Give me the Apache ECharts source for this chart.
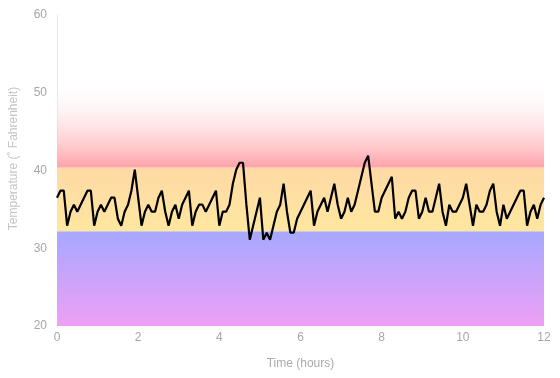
<!DOCTYPE html>
<html>
<head>
<meta charset="utf-8">
<script src="https://cdn.jsdelivr.net/npm/echarts@6/dist/echarts.min.js"></script>
<style>
  html, body { margin: 0; padding: 0; background: #fff; }
  #chart { width: 560px; height: 378px; }
</style>
</head>
<body>
<div id="chart"></div>
<script>
// readings every 5 minutes, degrees F
var sampleMinutes = 5;
var temps = [
  36.5, 37.4, 37.4, 32.9, 34.7, 35.6, 34.7, 35.6, 36.5, 37.4,
  37.4, 32.9, 34.7, 35.6, 34.7, 35.6, 36.5, 36.5, 33.8, 32.9,
  34.7, 35.6, 37.4, 40.1, 36.5, 32.9, 34.7, 35.6, 34.7, 34.7,
  36.5, 37.4, 34.7, 32.9, 34.7, 35.6, 33.8, 35.6, 36.5, 37.4,
  32.9, 34.7, 35.6, 35.6, 34.7, 35.6, 36.5, 37.4, 32.9, 34.7,
  34.7, 35.6, 38.3, 40.1, 41.0, 41.0, 35.6, 31.1, 32.9, 34.7,
  36.5, 31.1, 32.0, 31.1, 32.9, 34.7, 35.6, 38.3, 34.7, 32.0,
  32.0, 33.8, 34.7, 35.6, 36.5, 37.4, 32.9, 34.7, 35.6, 36.5,
  34.7, 36.5, 38.3, 35.6, 33.8, 34.7, 36.5, 34.7, 35.6, 37.4,
  39.2, 41.0, 41.9, 38.3, 34.7, 34.7, 36.5, 37.4, 38.3, 39.2,
  33.8, 34.7, 33.8, 34.7, 36.5, 37.4, 37.4, 33.8, 34.7, 36.5,
  34.7, 34.7, 36.5, 38.3, 34.7, 32.9, 35.6, 34.7, 34.7, 35.6,
  36.5, 38.3, 35.6, 32.9, 35.6, 34.7, 34.7, 35.6, 37.4, 38.3,
  34.7, 32.9, 35.6, 33.8, 34.7, 35.6, 36.5, 37.4, 37.4, 32.9,
  34.7, 35.6, 33.8, 35.6, 36.5
];
var xTicks = [0, 2, 4, 6, 8, 10, 12];
var yTicks = [20, 30, 40, 50, 60];
// comfort bands (F)
var coldBand = [20, 32.2];
var okBand = [32.2, 40.4];
var warmBand = [40.4, 52];

var points = temps.map(function(v, i) {
  return [i * sampleMinutes / 60, v];
});

var font = '"Liberation Sans", Arial, sans-serif';

function grad(top, bottom) {
  return new echarts.graphic.LinearGradient(0, 0, 0, 1, [
    { offset: 0, color: top },
    { offset: 1, color: bottom }
  ]);
}

var chart = echarts.init(document.getElementById('chart'));
chart.setOption({
  animation: false,
  grid: { left: 57, right: 16, top: 15, bottom: 52, containLabel: false, outerBoundsMode: 'none' },
  xAxis: {
    type: 'value',
    min: xTicks[0],
    max: xTicks[xTicks.length - 1],
    interval: 2,
    name: 'Time (hours)',
    nameLocation: 'middle',
    nameGap: 32,
    nameTextStyle: { color: '#aaa', fontSize: 12, fontFamily: font },
    axisLine: { show: false },
    axisTick: { show: false },
    splitLine: { show: false },
    axisLabel: { color: '#a6a6a6', fontSize: 12, fontFamily: font, margin: 6 }
  },
  yAxis: {
    type: 'value',
    min: yTicks[0],
    max: yTicks[yTicks.length - 1],
    interval: 10,
    name: 'Temperature (˚ Fahrenheit)',
    nameLocation: 'middle',
    nameGap: 37,
    nameTextStyle: { color: '#c4c4c4', fontSize: 12, fontFamily: font, padding: [0, 0, 0, 24] },
    axisLine: { show: true, lineStyle: { color: '#e6e6e6', width: 1 } },
    axisTick: { show: false },
    splitLine: { show: false },
    axisLabel: { color: '#a6a6a6', fontSize: 12, fontFamily: font, margin: 10 }
  },
  series: [{
    type: 'line',
    data: points,
    showSymbol: false,
    lineStyle: { color: '#000', width: 2.2 },
    z: 5,
    markArea: {
      silent: true,
      data: [
        [{ yAxis: coldBand[0], itemStyle: { color: grad('#a7a8ff', '#eea0f5') } }, { yAxis: coldBand[1] }],
        [{ yAxis: okBand[0], itemStyle: { color: grad('#ffd9a6', '#ffe79f') } }, { yAxis: okBand[1] }],
        [{ yAxis: warmBand[0], itemStyle: { color: grad('rgba(255,255,255,0)', '#ffa3a9') } }, { yAxis: warmBand[1] }]
      ]
    }
  }]
});
</script>
</body>
</html>
